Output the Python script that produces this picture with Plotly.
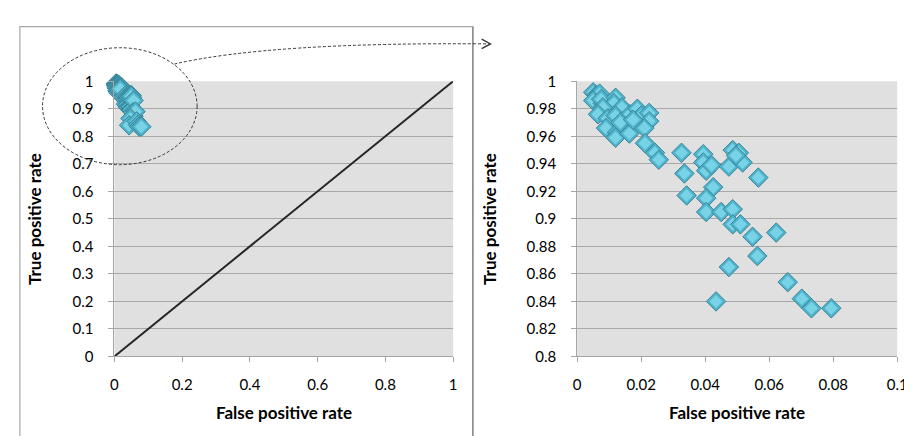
import plotly.graph_objects as go

# ---- data ----
fpr = [0.005, 0.006, 0.006, 0.007, 0.005, 0.008, 0.0075, 0.012, 0.0115, 0.014,
       0.008, 0.0065, 0.0095, 0.012, 0.0165, 0.0188, 0.020, 0.0225, 0.0225, 0.009,
       0.0125, 0.012, 0.0163, 0.021, 0.0212, 0.0243, 0.0255, 0.0135, 0.0175,
       0.0326, 0.0335, 0.0342, 0.0394, 0.0394, 0.0403, 0.042, 0.0425, 0.0403, 0.0403,
       0.045, 0.0486, 0.0505, 0.0474, 0.0517, 0.0496, 0.0486, 0.0486, 0.051, 0.0566,
       0.0548, 0.0563, 0.0622, 0.0474, 0.0434, 0.0658, 0.0702, 0.0732, 0.0794]
tpr = [0.992, 0.990, 0.988, 0.991, 0.986, 0.984, 0.987, 0.988, 0.984, 0.981,
       0.981, 0.976, 0.973, 0.975, 0.976, 0.980, 0.975, 0.977, 0.971, 0.966,
       0.963, 0.959, 0.962, 0.966, 0.955, 0.948, 0.943, 0.970, 0.972,
       0.948, 0.933, 0.917, 0.947, 0.941, 0.935, 0.939, 0.923, 0.915, 0.905,
       0.905, 0.950, 0.948, 0.938, 0.941, 0.946, 0.907, 0.896, 0.896, 0.930,
       0.887, 0.873, 0.890, 0.865, 0.840, 0.854, 0.842, 0.835, 0.835]

diag_x = [0, 1]
diag_y = [0, 1]

left_x_ticks = [0, 0.2, 0.4, 0.6, 0.8, 1]
left_x_labels = ["0", "0.2", "0.4", "0.6", "0.8", "1"]
left_y_ticks = [0, 0.1, 0.2, 0.3, 0.4, 0.5, 0.6, 0.7, 0.8, 0.9, 1]
left_y_labels = ["0", "0.1", "0.2", "0.3", "0.4", "0.5", "0.6", "0.7", "0.8", "0.9", "1"]
right_x_ticks = [0, 0.02, 0.04, 0.06, 0.08, 0.1]
right_x_labels = ["0", "0.02", "0.04", "0.06", "0.08", "0.1"]
right_y_ticks = [0.8, 0.82, 0.84, 0.86, 0.88, 0.9, 0.92, 0.94, 0.96, 0.98, 1]
right_y_labels = ["0.8", "0.82", "0.84", "0.86", "0.88", "0.9", "0.92", "0.94", "0.96", "0.98", "1"]

x_title = "False positive rate"
y_title = "True positive rate"

# ---- figure ----
W, H = 912, 436
FONT = "Lato, 'Open Sans', sans-serif"

def px_x(p):
    return p / W

def px_y(p):
    return 1 - p / H

# each point is drawn as a bevelled diamond: outer rim then lighter face,
# interleaved so overlapping markers stack like the original
n = len(fpr)
mx = [v for v in fpr for _ in range(2)]
my = [v for v in tpr for _ in range(2)]
marker = dict(symbol="diamond",
              size=[15, 10] * n,
              color=["#4FB4CC", "#78D3E7"] * n,
              line=dict(color=["#3B8497", "rgba(0,0,0,0)"] * n, width=[1, 0] * n),
              opacity=1)

fig = go.Figure()
fig.add_trace(go.Scatter(x=diag_x, y=diag_y, mode="lines",
                         line=dict(color="#262626", width=2),
                         xaxis="x", yaxis="y", showlegend=False, cliponaxis=False))
for xa, ya in (("x", "y"), ("x2", "y2")):
    fig.add_trace(go.Scatter(x=mx, y=my, mode="markers", marker=marker,
                             xaxis=xa, yaxis=ya, showlegend=False, cliponaxis=False))

axis_common = dict(showline=True, linecolor="#A6A6A6", linewidth=1,
                   ticks="outside", ticklen=5, tickcolor="#A6A6A6",
                   zeroline=False, tickfont=dict(family=FONT, size=15, color="#000"),
                   fixedrange=True)

fig.update_layout(
    width=W, height=H,
    margin=dict(l=0, r=0, t=0, b=0),
    paper_bgcolor="white",
    plot_bgcolor="#E0E0E0",
    showlegend=False,
    xaxis=dict(domain=[px_x(104), px_x(448)], range=[0, 1], anchor="y",
               tickvals=left_x_ticks, ticktext=left_x_labels, showgrid=False,
               ticklabelstandoff=10, **axis_common),
    yaxis=dict(domain=[px_y(353), px_y(66)], range=[0, 1], anchor="x",
               tickvals=left_y_ticks, ticktext=left_y_labels,
               showgrid=True, gridcolor="#A8A8A8", gridwidth=1.3,
               ticklabelstandoff=12, **axis_common),
    xaxis2=dict(domain=[px_x(574), px_x(899)], range=[0, 0.1], anchor="y2",
                tickvals=right_x_ticks, ticktext=right_x_labels, showgrid=False,
                ticklabelstandoff=10, **axis_common),
    yaxis2=dict(domain=[px_y(353), px_y(66)], range=[0.8, 1], anchor="x2",
                tickvals=right_y_ticks, ticktext=right_y_labels,
                showgrid=True, gridcolor="#A8A8A8", gridwidth=1.3,
                ticklabelstandoff=12, **axis_common),
)

title_font = dict(family=FONT, size=17, color="#000")
annotations = [
    dict(x=px_x(276), y=px_y(412), text="<b>%s</b>" % x_title),
    dict(x=px_x(736), y=px_y(412), text="<b>%s</b>" % x_title),
    dict(x=px_x(23), y=px_y(210), text="<b>%s</b>" % y_title, textangle=-90),
    dict(x=px_x(485), y=px_y(210), text="<b>%s</b>" % y_title, textangle=-90),
]
for a in annotations:
    a.update(xref="paper", yref="paper", showarrow=False, font=title_font,
             xanchor="center", yanchor="middle")
fig.update_layout(annotations=annotations)

shapes = [
    # left panel frame
    dict(type="rect", x0=px_x(8), x1=px_x(468), y0=-0.05, y1=px_y(9),
         line=dict(color="#A6A6A6", width=1.2)),
    # divider
    dict(type="line", x0=px_x(468), x1=px_x(468), y0=-0.05, y1=px_y(9),
         line=dict(color="#8C8C8C", width=1.5)),
    # dashed ellipse
    dict(type="circle", x0=px_x(31), x1=px_x(188), y0=px_y(153), y1=px_y(31),
         line=dict(color="#333333", width=1, dash="3px,2px")),
    # dashed curved arrow
    dict(type="path",
         path="M %f,%f Q %f,%f %f,%f" % (px_x(165), px_y(48), px_x(262), px_y(25),
                                         px_x(485), px_y(27)),
         line=dict(color="#333333", width=1, dash="3px,2px")),
    dict(type="path",
         path="M %f,%f L %f,%f L %f,%f" % (px_x(477), px_y(22), px_x(486), px_y(27),
                                           px_x(477), px_y(32)),
         line=dict(color="#333333", width=1.3)),
]
for s in shapes:
    s.update(xref="paper", yref="paper", layer="above")
fig.update_layout(shapes=shapes)

fig.write_html("out.html")
